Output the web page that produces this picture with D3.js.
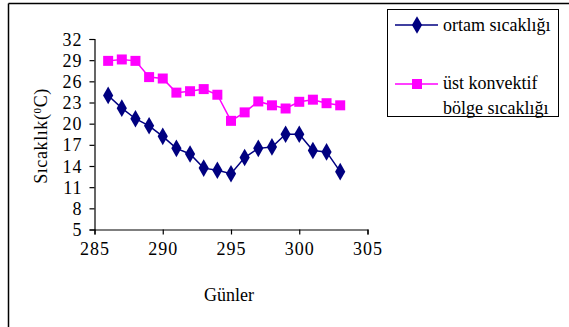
<!DOCTYPE html>
<html><head><meta charset="utf-8">
<script src="https://cdn.jsdelivr.net/npm/d3@7"></script>
<style>body{margin:0;background:#fff}svg{display:block}</style>
</head><body><svg id="c" width="569" height="327"></svg>
<script>
const days = [286,287,288,289,290,291,292,293,294,295,296,297,298,299,300,301,302,303];
const ortam = [24.0,22.2,20.7,19.7,18.2,16.5,15.7,13.7,13.4,12.9,15.2,16.5,16.7,18.5,18.5,16.2,16.0,13.2];
const ustKonvektif = [28.9,29.1,28.9,26.6,26.4,24.4,24.6,24.9,24.1,20.4,21.6,23.15,22.6,22.15,23.1,23.4,22.9,22.6];
const xTicks = [285,290,295,300,305];
const yTicks = [5,8,11,14,17,20,23,26,29,32];
const seriesNames = ["ortam sıcaklığı", ["üst konvektif","bölge sıcaklığı"]];

const FONT = "'Liberation Serif','Times New Roman',Times,'Nimbus Roman','Tinos','DejaVu Serif',serif";
const svg = d3.select("#c").attr("font-family",FONT);
svg.append("line").attr("x1",8.5).attr("x2",569).attr("y1",3.5).attr("y2",3.5).attr("stroke","#000").attr("stroke-width",1.5);
svg.append("line").attr("x1",8.5).attr("x2",8.5).attr("y1",3.5).attr("y2",327).attr("stroke","#000").attr("stroke-width",1.5);

const x = d3.scaleLinear().domain([285,305]).range([94.5,367.5]);
const y = d3.scaleLinear().domain([5,32]).range([229.5,39]);

const gx = svg.append("g").attr("transform","translate(0,229.5)")
  .call(d3.axisBottom(x).tickValues(xTicks).tickSize(5).tickPadding(8).tickFormat(d3.format("d")));
const gy = svg.append("g").attr("transform","translate(94.5,0)")
  .call(d3.axisLeft(y).tickValues(yTicks).tickSize(5).tickPadding(7).tickFormat(d3.format("d")));
[gx,gy].forEach(g=>{
  g.attr("font-family",FONT).attr("font-size",18);
  g.select(".domain").attr("stroke","#000").attr("stroke-width",1.2);
  g.selectAll(".tick line").attr("stroke","#000").attr("stroke-width",1.2);
  g.selectAll(".tick text").attr("fill","#000").attr("letter-spacing",1);
});
gy.selectAll(".tick text").attr("dy","0.34em");

const line = d3.line().x((d,i)=>x(days[i])).y(d=>y(d));
const navy = "#000080", pink = "#FF00FF";
svg.append("path").datum(ustKonvektif).attr("d",line).attr("fill","none").attr("stroke",pink).attr("stroke-width",1.5);
svg.append("path").datum(ortam).attr("d",line).attr("fill","none").attr("stroke",navy).attr("stroke-width",1.5);

const sq = d3.symbol().type(d3.symbolSquare).size(100);
const dm = d3.symbol().type(d3.symbolDiamond).size(90);
svg.selectAll(".sq").data(ustKonvektif).join("path").attr("d",sq)
  .attr("transform",(d,i)=>`translate(${x(days[i])},${y(d)})`).attr("fill",pink);
svg.selectAll(".dm").data(ortam).join("path").attr("d",dm)
  .attr("transform",(d,i)=>`translate(${x(days[i])},${y(d)})`).attr("fill",navy);

svg.append("text").attr("x",229).attr("y",301).attr("text-anchor","middle").attr("font-size",18).text("Günler");
const yl = svg.append("text").attr("transform","translate(47,136) rotate(-90)").attr("text-anchor","middle").attr("font-size",18).attr("letter-spacing",0.6);
yl.append("tspan").text("Sıcaklık(");
yl.append("tspan").attr("baseline-shift","super").attr("font-size",11).text("0");
yl.append("tspan").text("C)");

svg.append("rect").attr("x",387.5).attr("y",9.5).attr("width",171).attr("height",107).attr("fill","#fff").attr("stroke","#000").attr("stroke-width",1);
const lg = svg.append("g").attr("font-size",18);
lg.append("line").attr("x1",395).attr("x2",438).attr("y1",25).attr("y2",25).attr("stroke",navy).attr("stroke-width",1.5);
lg.append("path").attr("d",dm).attr("transform","translate(417,25)").attr("fill",navy);
lg.append("text").attr("x",443).attr("y",31).text(seriesNames[0]);
lg.append("line").attr("x1",395).attr("x2",438).attr("y1",84).attr("y2",84).attr("stroke",pink).attr("stroke-width",1.5);
lg.append("path").attr("d",sq).attr("transform","translate(417,84)").attr("fill",pink);
lg.append("text").attr("x",443).attr("y",89).text(seriesNames[1][0]);
lg.append("text").attr("x",443).attr("y",114).text(seriesNames[1][1]);
</script></body></html>
